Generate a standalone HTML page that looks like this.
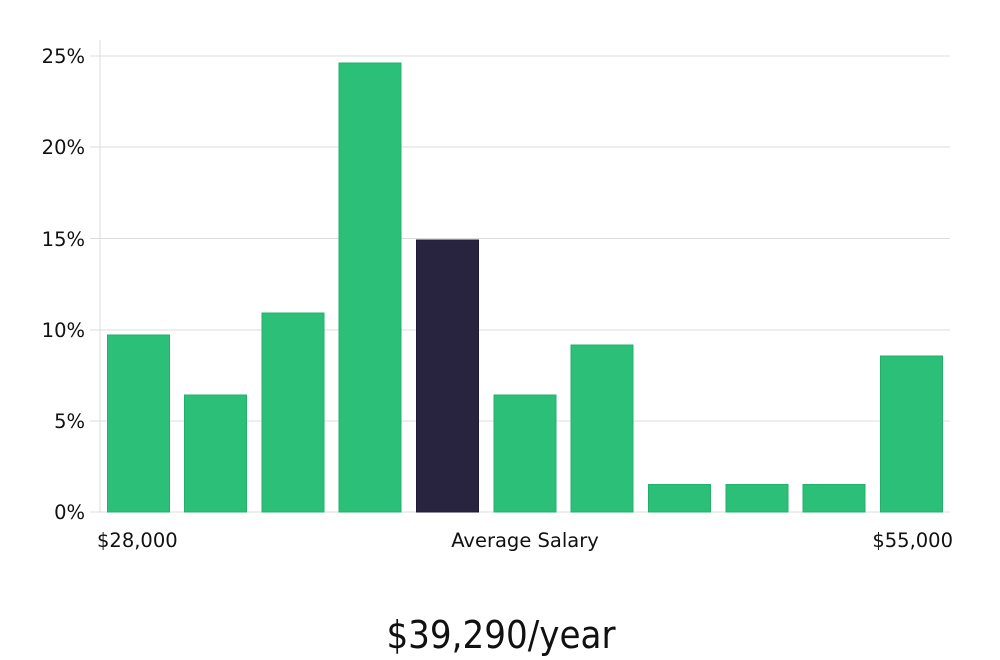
<!DOCTYPE html>
<html><head><meta charset="utf-8"><style>
html,body{margin:0;padding:0;background:#fff;width:1000px;height:660px;overflow:hidden}
svg{display:block}
text{font-family:"DejaVu Sans","Liberation Sans",sans-serif;fill:#111}
</style></head><body>
<svg width="1000" height="660" viewBox="0 0 1000 660">
<g stroke="#dcdcdc" stroke-width="1">
<line x1="90" y1="56" x2="950" y2="56"/>
<line x1="90" y1="147" x2="950" y2="147"/>
<line x1="90" y1="238.5" x2="950" y2="238.5"/>
<line x1="90" y1="330" x2="950" y2="330"/>
<line x1="90" y1="421" x2="950" y2="421"/>
<line x1="90" y1="512" x2="950" y2="512"/>
<line x1="100" y1="40" x2="100" y2="512"/>
</g>
<g font-size="19.5" text-anchor="end">
<text x="85" y="63">25%</text>
<text x="85" y="154">20%</text>
<text x="85" y="246">15%</text>
<text x="85" y="337">10%</text>
<text x="85" y="428">5%</text>
<text x="85" y="519">0%</text>
</g>
<g fill="#2bbf78" stroke="#22b06c" stroke-width="1">
<rect x="107.5" y="335" width="62" height="177"/>
<rect x="184.5" y="395" width="62" height="117"/>
<rect x="262" y="313" width="62" height="199"/>
<rect x="339" y="63" width="62" height="449"/>
<rect x="416.5" y="240" width="62" height="272" fill="#28243f" stroke="#1f1b33"/>
<rect x="494" y="395" width="62" height="117"/>
<rect x="571" y="345" width="62" height="167"/>
<rect x="648.5" y="484.5" width="62" height="27.5"/>
<rect x="726" y="484.5" width="62" height="27.5"/>
<rect x="803" y="484.5" width="62" height="27.5"/>
<rect x="880.5" y="356" width="62" height="156"/>
</g>
<g font-size="19.5">
<text x="97" y="547">$28,000</text>
<text x="525" y="547" text-anchor="middle">Average Salary</text>
<text x="953" y="547" text-anchor="end">$55,000</text>
</g>
<text x="501" y="648" font-size="38" font-weight="200" text-anchor="middle" style="font-family:'DejaVu Sans Condensed','DejaVu Sans',sans-serif">$39,290/year</text>
</svg>
</body></html>
